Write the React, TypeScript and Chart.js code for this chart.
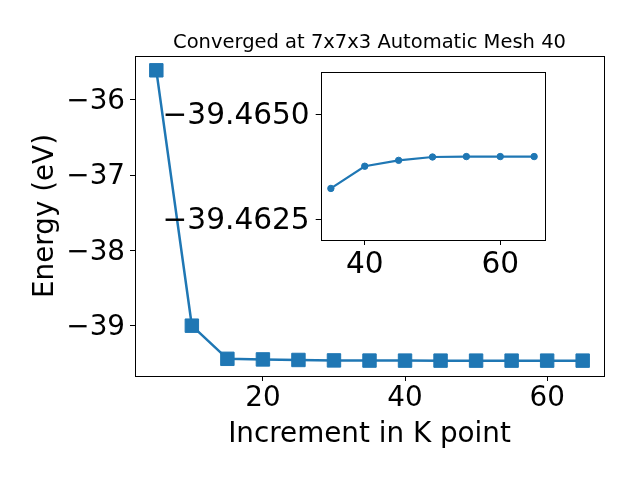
import React, { useEffect, useRef } from 'react';
import { Chart, registerables } from 'chart.js';

Chart.register(...registerables);

const kPoints = [5, 10, 15, 20, 25, 30, 35, 40, 45, 50, 55, 60, 65];
const energies = [-35.61, -39.0, -39.44, -39.448, -39.455, -39.461, -39.46323, -39.46376, -39.4639, -39.46398, -39.46399, -39.46399, -39.46399];
const insetK = [35, 40, 45, 50, 55, 60, 65];
const insetEnergies = [-39.46323, -39.46376, -39.4639, -39.46398, -39.46399, -39.46399, -39.46399];
const mainXTicks = [20, 40, 60];
const mainYTicks = [-36, -37, -38, -39];
const insetXTicks = [40, 60];
const insetYTicks = [-39.465, -39.4625];

const BLUE = '#1f77b4';
const FONT = 'DejaVu Sans';
const minus = (s: string) => s.replace('-', '\u2212');

const framePlugin = {
  id: 'frame',
  beforeDraw(chart: any, _a: any, opts: any) {
    if (opts && opts.fill) {
      const { left, top, right, bottom } = chart.chartArea;
      const ctx = chart.ctx;
      ctx.save();
      ctx.fillStyle = '#ffffff';
      ctx.fillRect(left, top, right - left, bottom - top);
      ctx.restore();
    }
  },
  afterDraw(chart: any) {
    const { left, top, right, bottom } = chart.chartArea;
    const ctx = chart.ctx;
    ctx.save();
    ctx.strokeStyle = '#000000';
    ctx.lineWidth = 1;
    ctx.strokeRect(Math.round(left) + 0.5, Math.round(top) + 0.5, Math.round(right - left), Math.round(bottom - top));
    ctx.restore();
  },
};

export default function App() {
  const mainRef = useRef<HTMLCanvasElement>(null);
  const insetRef = useRef<HTMLCanvasElement>(null);

  useEffect(() => {
    const tickFont = { family: FONT, size: 27.8 };
    const insetFont = { family: FONT, size: 29.6 };
    const main = new Chart(mainRef.current!, {
      type: 'line',
      data: {
        datasets: [
          {
            data: kPoints.map((x, i) => ({ x, y: energies[i] })),
            borderColor: BLUE,
            backgroundColor: BLUE,
            borderWidth: 2.5,
            pointStyle: 'rect',
            pointRadius: 9.5,
            pointHoverRadius: 9.5,
            pointBorderWidth: 1,
          },
        ],
      },
      options: {
        animation: false,
        responsive: false,
        devicePixelRatio: 1,
        layout: { padding: { top: 0, right: 36, bottom: 0, left: 0 } },
        plugins: {
          legend: { display: false },
          tooltip: { enabled: false },
          title: {
            display: true,
            text: 'Converged at 7x7x3 Automatic Mesh 40',
            fullSize: false,
            color: '#000',
            font: { family: FONT, size: 19.5, weight: 'normal' },
            padding: { top: 30.8, bottom: 1.8 },
          },
          frame: {},
        } as any,
        scales: {
          x: {
            type: 'linear',
            min: 2,
            max: 68,
            afterBuildTicks: (s: any) => { s.ticks = mainXTicks.map((v) => ({ value: v })); },
            afterFit: (s: any) => { s.height = 104; },
            ticks: { font: tickFont, color: '#000', padding: 1, maxRotation: 0, callback: (v: any) => minus(String(v)) },
            grid: { drawOnChartArea: false, drawTicks: true, tickLength: 5, color: '#000' },
            border: { display: false },
            title: { display: true, text: 'Increment in K point', color: '#000', font: tickFont, padding: { top: 0, bottom: 29 } },
          },
          y: {
            type: 'linear',
            min: -39.668,
            max: -35.42,
            afterBuildTicks: (s: any) => { s.ticks = mainYTicks.map((v) => ({ value: v })); },
            afterFit: (s: any) => { s.width = 135; },
            ticks: { font: tickFont, color: '#000', padding: 5, labelOffset: 2, callback: (v: any) => minus(String(v)) },
            grid: { drawOnChartArea: false, drawTicks: true, tickLength: 5, color: '#000' },
            border: { display: false },
            title: { display: true, text: 'Energy (eV)', color: '#000', font: tickFont, padding: { top: 29, bottom: 0 } },
          },
        },
      },
      plugins: [framePlugin],
    });

    const inset = new Chart(insetRef.current!, {
      type: 'line',
      data: {
        datasets: [
          {
            data: insetK.map((x, i) => ({ x, y: insetEnergies[i] })),
            borderColor: BLUE,
            backgroundColor: BLUE,
            borderWidth: 2.2,
            pointStyle: 'circle',
            pointRadius: 3.2,
            pointHoverRadius: 3.2,
            pointBorderWidth: 1,
          },
        ],
      },
      options: {
        animation: false,
        responsive: false,
        devicePixelRatio: 1,
        layout: { padding: { top: 32.3, right: 25.7, bottom: 0, left: 0 } },
        plugins: {
          legend: { display: false },
          tooltip: { enabled: false },
          frame: { fill: true },
        } as any,
        scales: {
          x: {
            type: 'linear',
            min: 33.5,
            max: 66.5,
            afterBuildTicks: (s: any) => { s.ticks = insetXTicks.map((v) => ({ value: v })); },
            afterFit: (s: any) => { s.height = 50; },
            ticks: { font: insetFont, color: '#000', padding: 3, maxRotation: 0 },
            grid: { drawOnChartArea: false, drawTicks: true, tickLength: 5, color: '#000' },
            border: { display: false },
          },
          y: {
            type: 'linear',
            min: -39.466,
            max: -39.462,
            reverse: true,
            afterBuildTicks: (s: any) => { s.ticks = insetYTicks.map((v) => ({ value: v })); },
            afterFit: (s: any) => { s.width = 170.7; },
            ticks: { font: insetFont, color: '#000', padding: 6, labelOffset: 2, callback: (v: any) => '\u2212' + Math.abs(Number(v)).toFixed(4) },
            grid: { drawOnChartArea: false, drawTicks: true, tickLength: 5, color: '#000' },
            border: { display: false },
          },
        },
      },
      plugins: [framePlugin],
    });

    return () => {
      main.destroy();
      inset.destroy();
    };
  }, []);

  return (
    <div style={{ position: 'absolute', left: 0, top: 0, width: 640, height: 480, background: '#fff' }}>
      <canvas ref={mainRef} width={640} height={480} style={{ position: 'absolute', left: 0, top: 0 }} />
      <canvas ref={insetRef} width={420} height={250} style={{ position: 'absolute', left: 150, top: 40 }} />
    </div>
  );
}
